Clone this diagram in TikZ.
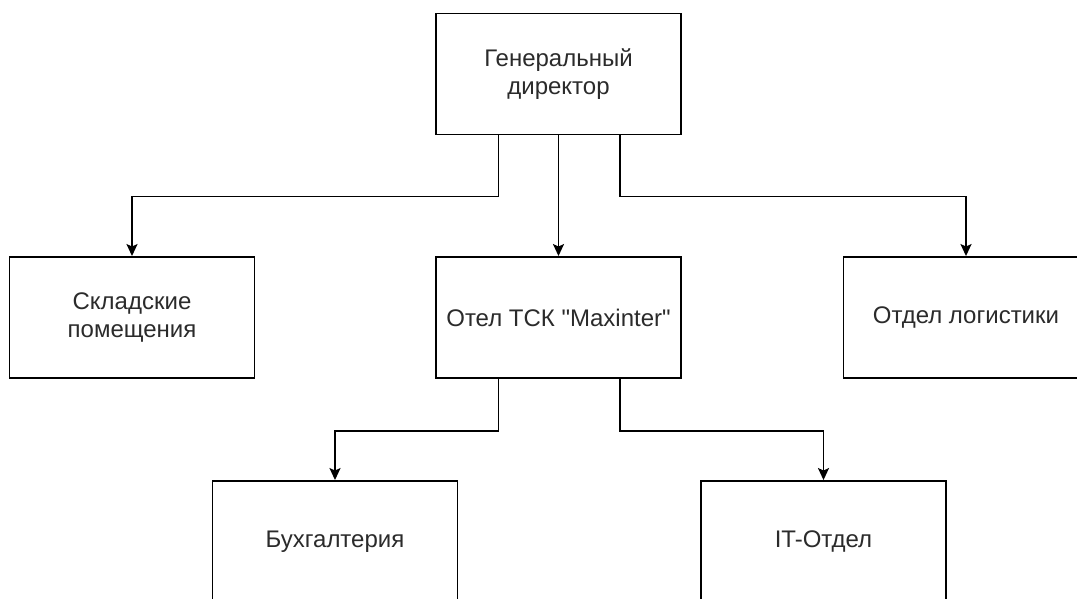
\documentclass[tikz,border=0pt]{standalone}
\usepackage{fontspec}
\setmainfont{Liberation Sans}[Ligatures=TeXOff]
\usetikzlibrary{arrows.meta}
\definecolor{textgray}{HTML}{2B2B2B}
\begin{document}
\begin{tikzpicture}[x=1pt,y=-1pt,
  unit/.style={draw=black, line width=1.9pt, minimum width=245pt, minimum height=121pt,
    inner sep=0pt, align=center, text=textgray, font=\fontsize{24}{28}\selectfont},
  link/.style={draw=black, line width=1.9pt, -{Stealth[length=12pt,width=11pt,inset=2.5pt]}}]
\useasboundingbox (0,0) rectangle (1077,598);
\clip (0,0) rectangle (1077,598);
\fill[white] (0,0) rectangle (1077,598);

% organisation units
\node[unit] (gd)    at (558.5,74)  {Генеральный\\директор};
\node[unit] (sklad) at (132,317.5)   {Складские\\помещения};
\node[unit] (otel)  at (558.5,317.5) {Отел ТСК "Maxinter"};
\node[unit] (log)   at (966,317.5)   {Отдел логистики};
\node[unit] (buh)   at (335,541.5)   {Бухгалтерия};
\node[unit] (it)    at (823.5,541.5) {IT-Отдел};

% reporting lines
\draw[link] ([xshift=-60pt]gd.south) -- ++(0,61) -| (sklad.north);
\draw[link] (gd.south) -- (otel.north);
\draw[link] ([xshift=61.5pt]gd.south) -- ++(0,61) -| (log.north);
\draw[link] ([xshift=-60pt]otel.south) -- ++(0,52) -| (buh.north);
\draw[link] ([xshift=61.5pt]otel.south) -- ++(0,52) -| (it.north);
\end{tikzpicture}
\end{document}
